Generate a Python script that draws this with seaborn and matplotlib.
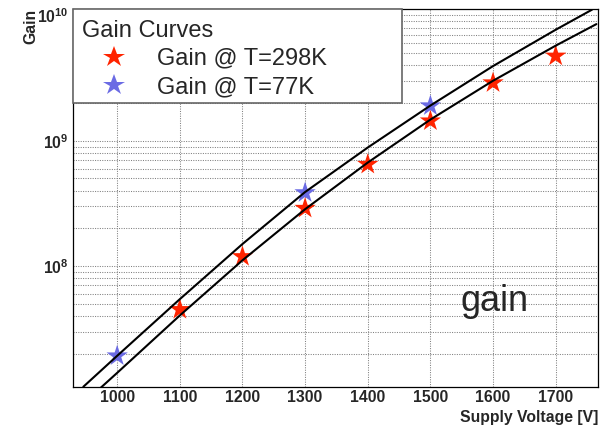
import matplotlib
matplotlib.use("Agg")
import matplotlib.pyplot as plt
from matplotlib.patches import Rectangle
import numpy as np
import pandas as pd
import seaborn as sns
from matplotlib.ticker import FixedLocator, MultipleLocator, LogLocator, FuncFormatter, NullFormatter

# Measured gain points
voltage_298 = [1100, 1200, 1300, 1400, 1500, 1600, 1700]
gain_298 = [4.5e7, 1.19e8, 2.89e8, 6.48e8, 1.44e9, 2.90e9, 4.74e9]
voltage_77 = [1000, 1300, 1500]
gain_77 = [1.92e7, 3.85e8, 1.90e9]

# Fitted gain curves
fit_voltage_77 = [946, 1000, 1100, 1200, 1300, 1400, 1500, 1600, 1700, 1758]
fit_gain_77 = [1.089e7, 1.923e7, 5.445e7, 1.500e8, 3.899e8, 8.831e8,
               1.910e9, 3.945e9, 7.691e9, 1.112e10]
fit_voltage_298 = [972, 1000, 1100, 1200, 1300, 1400, 1500, 1600, 1700, 1765]
fit_gain_298 = [1.05e7, 1.406e7, 4.036e7, 1.112e8, 2.844e8, 6.699e8,
                1.476e9, 3.013e9, 5.741e9, 8.531e9]

series_labels = ["Gain @ T=298K", "Gain @ T=77K"]
series_colors = ["#ff2400", "#6b6be4"]
x_ticks = [1000, 1100, 1200, 1300, 1400, 1500, 1600, 1700]
y_major = [1e8, 1e9, 1e10]

sns.set_style("white")
plt.rcParams["font.family"] = ["Liberation Sans", "DejaVu Sans"]
plt.rcParams["mathtext.fontset"] = "custom"
plt.rcParams["mathtext.rm"] = "Liberation Sans"
plt.rcParams["mathtext.bf"] = "Liberation Sans:bold"
plt.rcParams["mathtext.it"] = "Liberation Sans:italic"

points = pd.DataFrame({
    "voltage": voltage_298 + voltage_77,
    "gain": gain_298 + gain_77,
    "series": [series_labels[0]] * len(voltage_298) + [series_labels[1]] * len(voltage_77),
})

fig = plt.figure(figsize=(6.1, 4.3), dpi=100)
ax = fig.add_axes([0.1202, 0.1007, 0.8606, 0.8777])

sns.scatterplot(data=points, x="voltage", y="gain", hue="series",
                hue_order=series_labels,
                palette=dict(zip(series_labels, series_colors)),
                marker="*", s=260, linewidth=0, ax=ax, zorder=3)

for fv, fg in [(fit_voltage_77, fit_gain_77), (fit_voltage_298, fit_gain_298)]:
    sns.lineplot(x=fv, y=fg, color="black", lw=1.5, sort=False,
                 estimator=None, ax=ax, zorder=4, legend=False)

ax.set_yscale("log")
ax.set_xlim(930, 1768)
ax.set_ylim(1.09e7, 1.12e10)

# ticks
ax.xaxis.set_major_locator(FixedLocator(x_ticks))
ax.xaxis.set_minor_locator(MultipleLocator(20))
ax.yaxis.set_major_locator(FixedLocator(y_major))
ax.yaxis.set_minor_locator(LogLocator(base=10, subs=np.arange(2, 10)))
ax.yaxis.set_minor_formatter(NullFormatter())
ax.xaxis.set_major_formatter(FuncFormatter(lambda v, p: f"{int(v)}"))
ax.yaxis.set_major_formatter(FuncFormatter(
    lambda v, p: r"$\mathbf{10^{%d}}$" % int(round(np.log10(v)))))

ax.tick_params(axis="both", which="both", direction="in", top=False,
               right=False, color="black", width=0.8)
ax.tick_params(axis="x", which="major", length=8, pad=2.5)
ax.tick_params(axis="x", which="minor", length=4.3)
ax.tick_params(axis="y", which="major", length=11.5, pad=3.5)
ax.tick_params(axis="y", which="minor", length=5.8)
for lab in ax.get_xticklabels() + ax.get_yticklabels():
    lab.set_fontweight("bold")
    lab.set_fontsize(11.3)

for sp in ax.spines.values():
    sp.set_color("black")
    sp.set_linewidth(0.9)

# dotted grid
grid_kw = dict(color="#808080", linestyle=(0, (1, 1.3)), linewidth=0.75)
ax.grid(True, which="major", axis="x", **grid_kw)
ax.grid(True, which="both", axis="y", **grid_kw)
ax.set_axisbelow(True)

ax.set_xlabel("Supply Voltage [V]", loc="right", fontweight="bold", fontsize=11.3)
ax.set_ylabel("Gain", loc="top", fontweight="bold", fontsize=11.3)
ax.xaxis.set_label_coords(1.0, -0.062)
ax.yaxis.set_label_coords(-0.066, 1.0)

ax.text(0.7366, 0.2006, "gain", transform=ax.transAxes, fontsize=26,
        ha="left", va="baseline")

# legend box
ax.add_patch(Rectangle((0, 0.7525), 0.626, 0.2475, transform=ax.transAxes,
                       facecolor="white", edgecolor="#666666", linewidth=1.2,
                       zorder=9, clip_on=False))
handles, labels = ax.get_legend_handles_labels()
leg = ax.legend(handles, labels, title="Gain Curves", loc="upper left",
                bbox_to_anchor=(0.016, 0.9724), borderaxespad=0, borderpad=0,
                fontsize=17, title_fontsize=17, alignment="left",
                frameon=False, handlelength=2.76, handletextpad=0.43,
                labelspacing=0.26)
leg.set_zorder(10)

fig.savefig("out.png", dpi=100)
